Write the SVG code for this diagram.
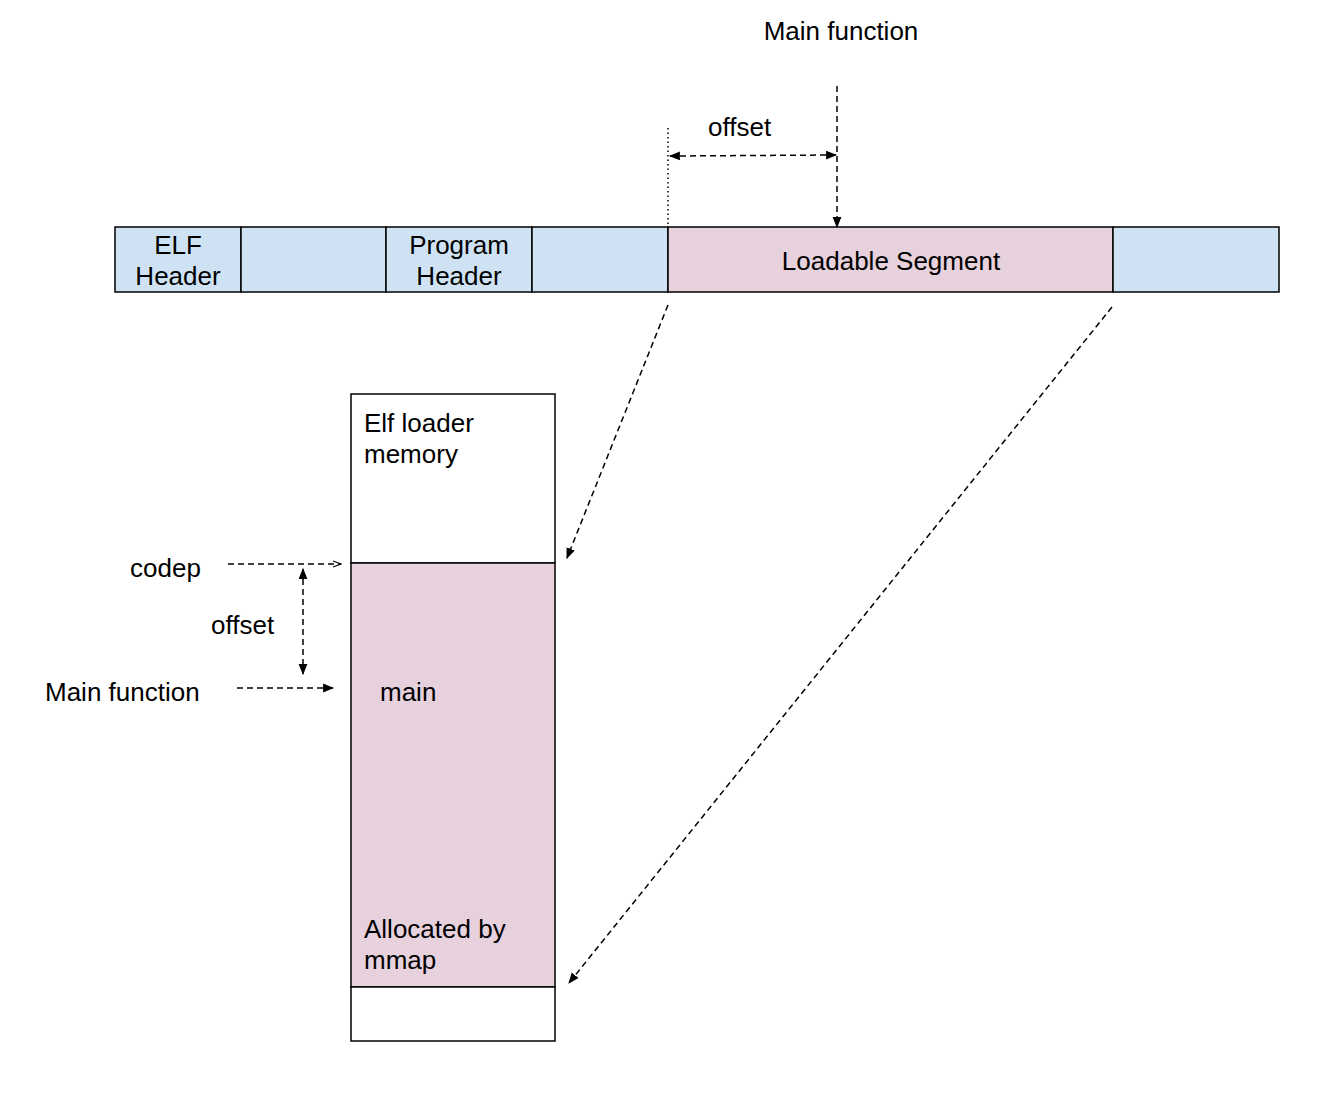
<svg xmlns="http://www.w3.org/2000/svg" width="1328" height="1098" viewBox="0 0 1328 1098">
<style>
text{font-family:"Liberation Sans",Arial,sans-serif;font-size:26px;fill:#000}
.c{text-anchor:middle}
.blue{fill:#cfe2f3;stroke:#000;stroke-width:1.5}
.pink{fill:#e6d1dc;stroke:#000;stroke-width:1.5}
.white{fill:#fff;stroke:#000;stroke-width:1.5}
.d{fill:none;stroke:#000;stroke-width:1.5;stroke-dasharray:6 4}
.dot{fill:none;stroke:#000;stroke-width:1.5;stroke-dasharray:1.5 3}
</style>
<defs>
<marker id="a" viewBox="0 0 10 10" refX="9" refY="5" markerWidth="11" markerHeight="11" markerUnits="userSpaceOnUse" orient="auto-start-reverse">
<path d="M0,1 L10,5 L0,9 z" fill="#000"/>
</marker>
<marker id="o" viewBox="0 0 10 10" refX="9" refY="5" markerWidth="10" markerHeight="10" markerUnits="userSpaceOnUse" orient="auto">
<path d="M1,2 L9,5 L1,8" fill="none" stroke="#000" stroke-width="1.2"/>
</marker>
</defs>
<rect width="1328" height="1098" fill="#fff"/>
<g id="elf-file">
<g id="elf-header"><rect class="blue" x="115" y="227" width="126" height="65"/><text class="c" x="178" y="254">ELF</text><text class="c" x="178" y="285">Header</text></g>
<g id="gap1"><rect class="blue" x="241" y="227" width="145" height="65"/></g>
<g id="program-header"><rect class="blue" x="386" y="227" width="146" height="65"/><text class="c" x="459" y="254">Program</text><text class="c" x="459" y="285">Header</text></g>
<g id="gap2"><rect class="blue" x="532" y="227" width="136" height="65"/></g>
<g id="loadable-segment"><rect class="pink" x="668" y="227" width="445" height="65"/><text class="c" x="891" y="270">Loadable Segment</text></g>
<g id="gap3"><rect class="blue" x="1113" y="227" width="166" height="65"/></g>
</g>
<g id="memory">
<g id="loader-memory"><rect class="white" x="351" y="394" width="204" height="169"/><text x="364" y="432">Elf loader</text><text x="364" y="463">memory</text></g>
<g id="mmap-region"><rect class="pink" x="351" y="563" width="204" height="424"/><text x="380" y="701">main</text><text x="364" y="938">Allocated by</text><text x="364" y="969">mmap</text></g>
<g id="bottom-memory"><rect class="white" x="351" y="987" width="204" height="54"/></g>
</g>
<g id="labels">
<text class="c" x="841" y="40">Main function</text>
<text x="708" y="136">offset</text>
<text x="130" y="577">codep</text>
<text x="211" y="634">offset</text>
<text x="45" y="701">Main function</text>
</g>
<g id="connectors">
<line class="d" x1="837" y1="86" x2="837" y2="227" marker-end="url(#a)"/>
<line class="dot" x1="668" y1="128" x2="668" y2="227"/>
<line class="d" x1="670" y1="156" x2="836" y2="155" marker-start="url(#a)" marker-end="url(#a)"/>
<line class="d" x1="668" y1="305" x2="567" y2="558" marker-end="url(#a)"/>
<line class="d" x1="1112" y1="307" x2="569" y2="983" marker-end="url(#a)"/>
<line class="d" x1="228" y1="564" x2="341" y2="564" marker-end="url(#o)"/>
<line class="d" x1="303" y1="569" x2="303" y2="674" marker-start="url(#a)" marker-end="url(#a)"/>
<line class="d" x1="237" y1="688" x2="333" y2="688" marker-end="url(#a)"/>
</g>
</svg>
